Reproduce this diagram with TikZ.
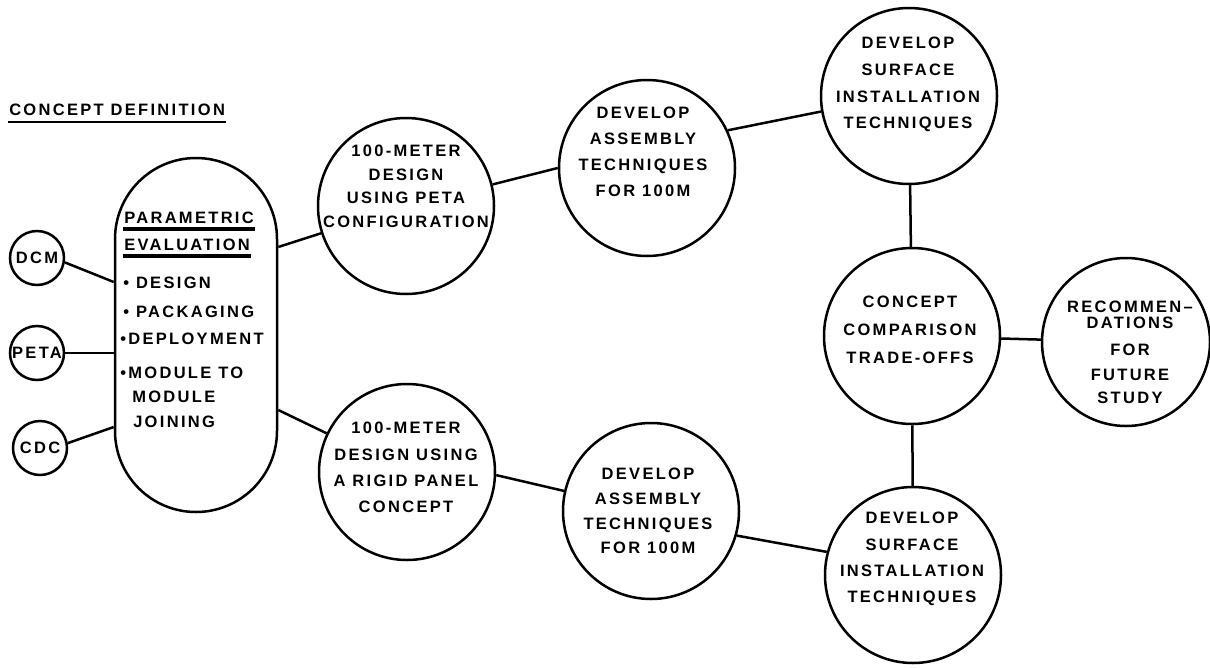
\documentclass[tikz,border=0pt]{standalone}
\usepackage{fontspec}
\setmainfont{Liberation Sans}[LetterSpace=14]
\begin{document}
\begin{tikzpicture}[x=1pt,y=-1pt,line width=2.5pt,
  every node/.style={font=\fontsize{16.5}{26}\selectfont\bfseries,inner sep=0pt},
  bigc/.style={draw,circle,minimum size=176pt},
  smallc/.style={draw,circle,minimum size=54pt},
  lbl/.style={align=center,anchor=north,font=\fontsize{16.5}{#1}\selectfont\bfseries},
  lst/.style={anchor=base west}]
\fill[white] (0,0) rectangle (1210,667);
\useasboundingbox (0,0) rectangle (1210,667);

% title
\node[anchor=base west] (title) at (8,115) {CONCEPT DEFINITION};
\draw[line width=2pt] ([yshift=-7pt]title.base west) -- ([yshift=-7pt]title.base east);

% parametric evaluation stadium
\node[draw,rounded corners=81pt,minimum width=162pt,minimum height=354pt] (stad) at (196,335) {};
\node[lst] (par) at (123,223) {PARAMETRIC};
\draw[line width=4pt] ([yshift=-6pt]par.base west) -- ([yshift=-6pt]par.base east);
\node[lst] (eva) at (123,250) {EVALUATION};
\draw[line width=4pt] ([yshift=-6pt]eva.base west) -- ([yshift=-6pt]eva.base east);
\node[lst] (i1) at (122,288) {•\hspace{7pt}DESIGN};
\node[lst] (i2) at (122,317) {•\hspace{7pt}PACKAGING};
\node[lst] (i3) at (119,344) {•DEPLOYMENT};
\node[lst] (i4) at (119,378) {•MODULE TO};
\node[lst] (i5) at (131,402) {MODULE};
\node[lst] (i6) at (132,427) {JOINING};

% small input circles
\node[smallc] (DCM) at (37,258) {DCM};
\node[smallc] (PETA) at (37,353) {PETA};
\node[smallc] (CDC) at (40,448) {CDC};

% big circles
\node[bigc] (C1) at (406,206) {};
\node[bigc] (C2) at (647,168) {};
\node[bigc] (C3) at (909,96) {};
\node[bigc] (CC) at (912,336) {};
\node[draw,circle,minimum size=168pt] (Rec) at (1126,342) {};
\node[bigc] (C4) at (407,472) {};
\node[bigc] (C5) at (651,511) {};
\node[bigc] (C6) at (913,575) {};

% circle texts
\node[lbl=23.5] (t1) at (406,144) {100-METER\\DESIGN\\USING PETA\\CONFIGURATION};
\node[lbl=26] (t2) at (643,106) {DEVELOP\\ASSEMBLY\\TECHNIQUES\\FOR 100M};
\node[lbl=26.7] (t3) at (908,36) {DEVELOP\\SURFACE\\INSTALLATION\\TECHNIQUES};
\node[lbl=28] (t4) at (910,295) {CONCEPT\\COMPARISON\\TRADE-OFFS};
\node[lbl=25] (t5) at (1130,300) {RECOMMEN–\\[-9pt]DATIONS\\[2pt]FOR\\FUTURE\\[-2pt]STUDY};
\node[lbl=26.3] (t6) at (406,421) {100-METER\\DESIGN USING\\A RIGID PANEL\\CONCEPT};
\node[lbl=24.7] (t7) at (648,467) {DEVELOP\\ASSEMBLY\\TECHNIQUES\\FOR 100M};
\node[lbl=26.3] (t8) at (912,511) {DEVELOP\\SURFACE\\INSTALLATION\\TECHNIQUES};

% connectors
\draw (DCM.-9) -- ([yshift=53pt]stad.west);
\draw (PETA.east) -- (PETA.east -| stad.west);
\draw (CDC.10) -- ([yshift=-92pt]stad.west);
\draw ([yshift=88pt]stad.east) -- (C1);
\draw ([yshift=-75pt]stad.east) -- (C4);
\draw (C1.14) -- (C2.180);
\draw (C2.25) -- (C3.190);
\draw (C4.-2) -- (C5.167);
\draw (C5.-16) -- (C6.165);
\draw (C3) -- (CC);
\draw (CC) -- (C6);
\draw (CC) -- (Rec);
\end{tikzpicture}
\end{document}
